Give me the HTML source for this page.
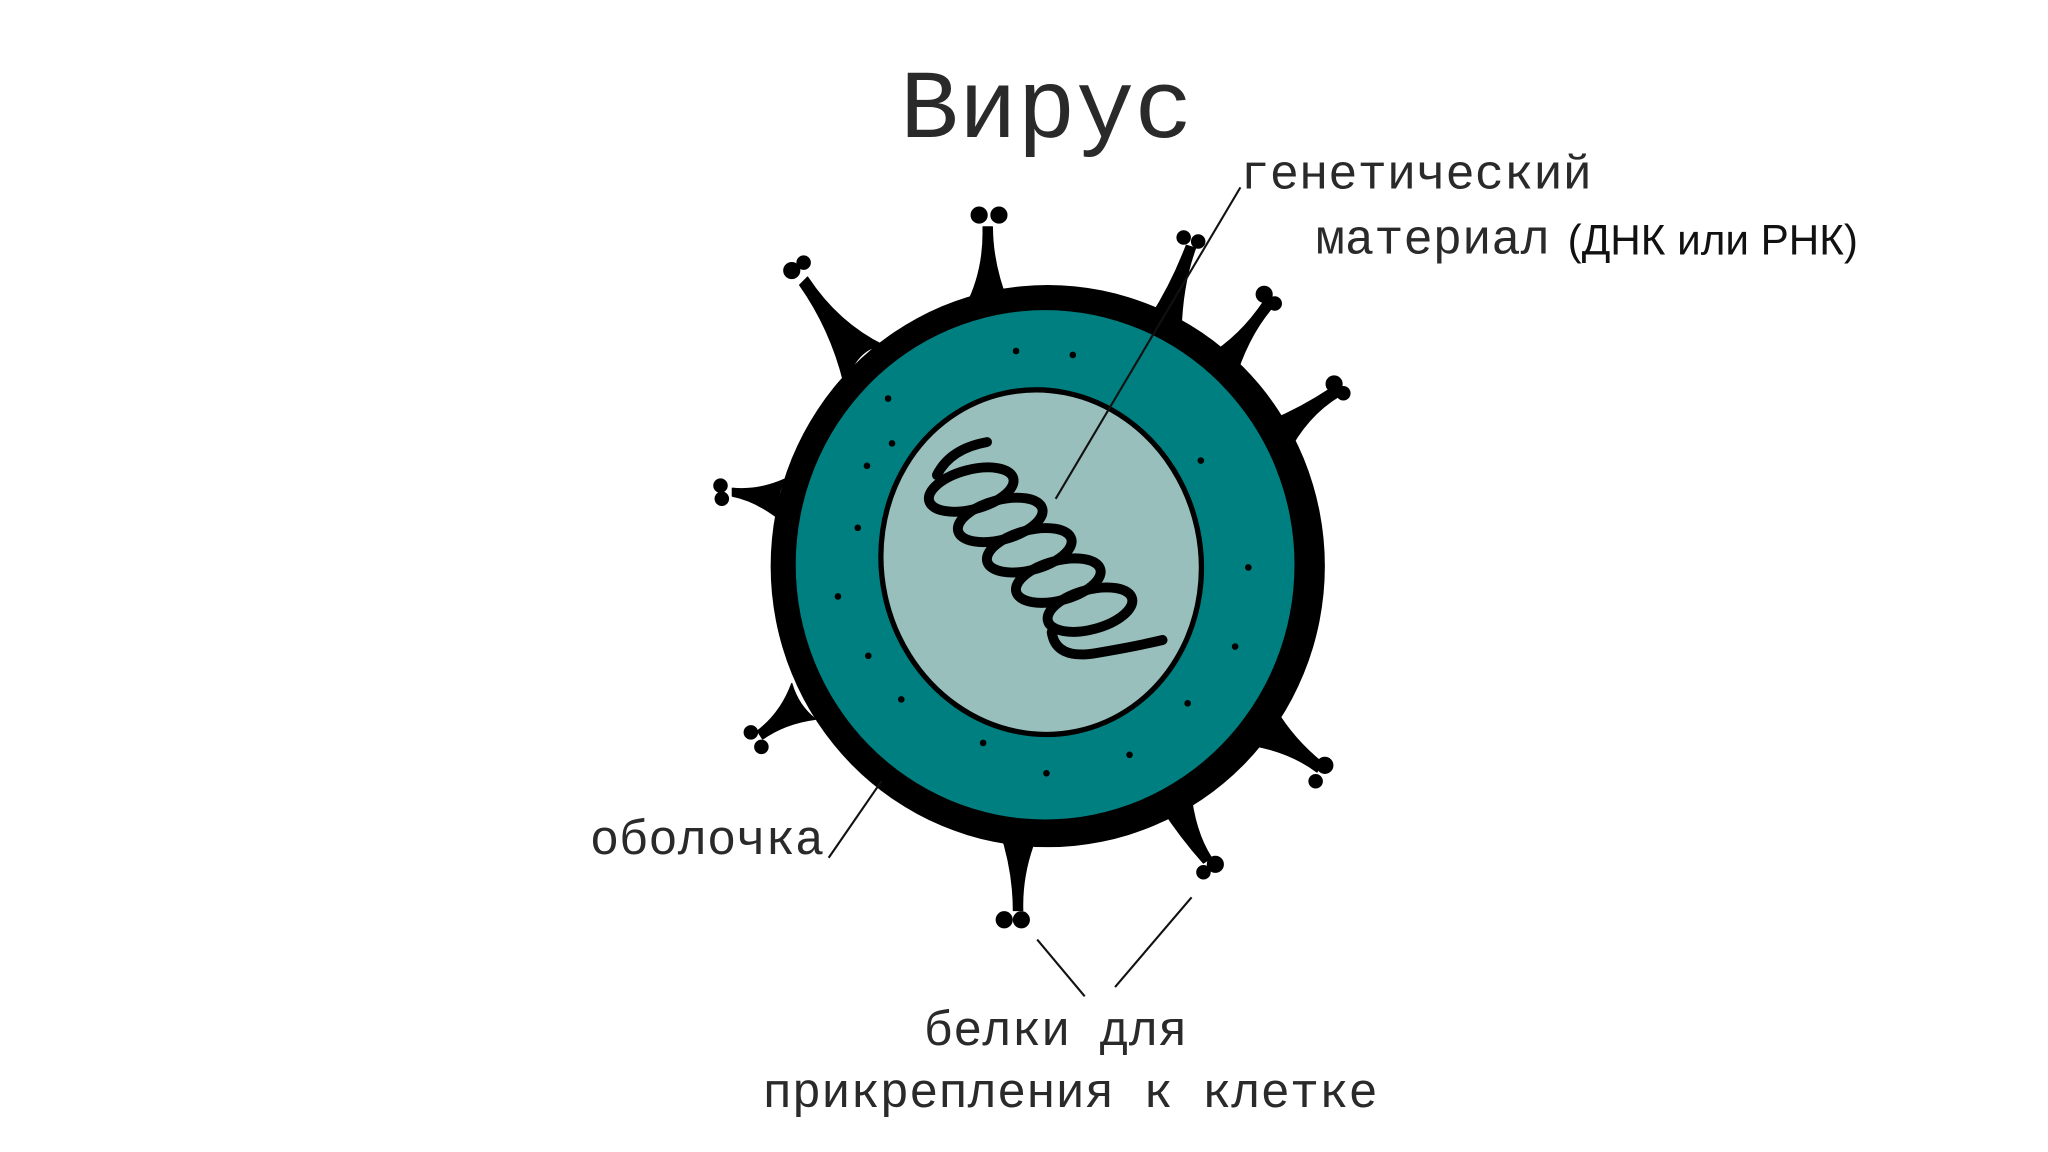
<!DOCTYPE html>
<html><head><meta charset="utf-8"><style>
html,body{margin:0;padding:0;background:#fff;}
svg{display:block;}
.m{font-family:"Liberation Mono","DejaVu Sans Mono",monospace;fill:#2a2a2a;}
</style></head><body>
<svg width="2048" height="1152" viewBox="0 0 1552 873" xmlns="http://www.w3.org/2000/svg">
<rect width="1552" height="873" fill="#fff"/>
<text class="m" x="793" y="104" font-size="74" text-anchor="middle">Вирус</text>

<!-- spikes -->
<g fill="#000" stroke="#000" stroke-linejoin="round">
<path d="M732,232 Q752,215 764,230 Q752,200 752,172 L745,172 Q746,205 732,232Z"/><circle cx="742" cy="163" r="6"/><circle cx="757" cy="163" r="6"/>
<path d="M640,292 Q650,262 670,262 Q635,245 612,210 L606,216 Q630,250 640,292Z"/><circle cx="600" cy="205" r="6"/><circle cx="609" cy="199" r="5"/>
<path d="M872,240 Q885,235 895,250 Q896,215 906,188 L899,186 Q888,215 872,240Z"/><circle cx="897" cy="180" r="5"/><circle cx="908" cy="183" r="5"/>
<path d="M915,270 Q930,270 935,290 Q945,255 965,232 L958,228 Q940,255 915,270Z"/><circle cx="958" cy="223" r="6"/><circle cx="966" cy="230" r="5"/>
<path d="M960,320 Q975,325 975,345 Q990,315 1015,300 L1009,294 Q985,310 960,320Z"/><circle cx="1011" cy="291" r="6"/><circle cx="1018" cy="298" r="5"/>
<path d="M595,363 Q585,380 595,397 Q575,380 555,376 L555,370 Q575,372 595,363Z"/><circle cx="546" cy="368" r="5"/><circle cx="547" cy="378" r="5"/>
<path d="M600,518 Q605,535 618,545 Q595,548 578,560 L574,554 Q592,540 600,518Z"/><circle cx="569" cy="555" r="5"/><circle cx="577" cy="566" r="5"/>
<path d="M967,538 Q960,555 950,565 Q978,570 998,585 L1002,578 Q980,560 967,538Z"/><circle cx="1004" cy="580" r="6"/><circle cx="997" cy="592" r="5"/>
<path d="M880,612 Q893,610 902,598 Q905,630 918,650 L912,654 Q895,635 880,612Z"/><circle cx="921" cy="655" r="6"/><circle cx="912" cy="661" r="5"/>
<path d="M758,630 Q772,640 787,630 Q774,660 775,690 L768,690 Q768,660 758,630Z"/><circle cx="761" cy="697" r="6"/><circle cx="774" cy="697" r="6"/>
</g>

<!-- body -->
<ellipse cx="794" cy="429" rx="210" ry="213" fill="#000"/>
<ellipse cx="792" cy="428" rx="189" ry="193" fill="#007f80"/>
<ellipse cx="789" cy="426" rx="121" ry="131" fill="#98bfbc" stroke="#000" stroke-width="4" transform="rotate(-12 789 426)"/>

<!-- dots -->
<g fill="#000">
<circle cx="770" cy="266" r="2.5"/><circle cx="813" cy="269" r="2.5"/><circle cx="673" cy="302" r="2.5"/>
<circle cx="676" cy="336" r="2.5"/><circle cx="657" cy="353" r="2.5"/><circle cx="650" cy="400" r="2.5"/>
<circle cx="910" cy="349" r="2.5"/><circle cx="946" cy="430" r="2.5"/><circle cx="635" cy="452" r="2.5"/>
<circle cx="936" cy="490" r="2.5"/><circle cx="658" cy="497" r="2.5"/><circle cx="683" cy="530" r="2.5"/>
<circle cx="900" cy="533" r="2.5"/><circle cx="856" cy="572" r="2.5"/><circle cx="745" cy="563" r="2.5"/>
<circle cx="793" cy="586" r="2.5"/>
</g>

<!-- helix -->
<g fill="none" stroke="#000" stroke-width="7.5" stroke-linecap="round">
<ellipse cx="736" cy="371" rx="33" ry="15" transform="rotate(-15 736 371)"/>
<ellipse cx="758" cy="394" rx="33" ry="15" transform="rotate(-15 758 394)"/>
<ellipse cx="780" cy="417" rx="33" ry="15" transform="rotate(-15 780 417)"/>
<ellipse cx="802" cy="440" rx="33" ry="15" transform="rotate(-15 802 440)"/>
<ellipse cx="826" cy="462" rx="33" ry="15" transform="rotate(-15 826 462)"/>
<path d="M797,479 Q800,500 830,495 Q860,490 881,485"/>
<path d="M748,335 Q720,340 710,360"/>
</g>

<!-- leader lines -->
<g stroke="#111" stroke-width="1.6" fill="none">
<line x1="940" y1="142" x2="800" y2="378"/>
<line x1="628" y1="650" x2="668" y2="592"/>
<line x1="786" y1="712" x2="822" y2="755"/>
<line x1="845" y1="748" x2="903" y2="680"/>
</g>

<text class="m" x="940" y="143" font-size="37">генетический</text>
<text class="m" x="997" y="192" font-size="37">материал</text>
<text x="1188" y="193" font-size="32" font-family="Liberation Sans, sans-serif" fill="#111">(ДНК или РНК)</text>
<text class="m" x="447" y="647" font-size="37">оболочка</text>
<text class="m" x="800" y="792" font-size="37" text-anchor="middle">белки для</text>
<text class="m" x="811" y="839" font-size="37" text-anchor="middle">прикрепления к клетке</text>
</svg>
</body></html>
